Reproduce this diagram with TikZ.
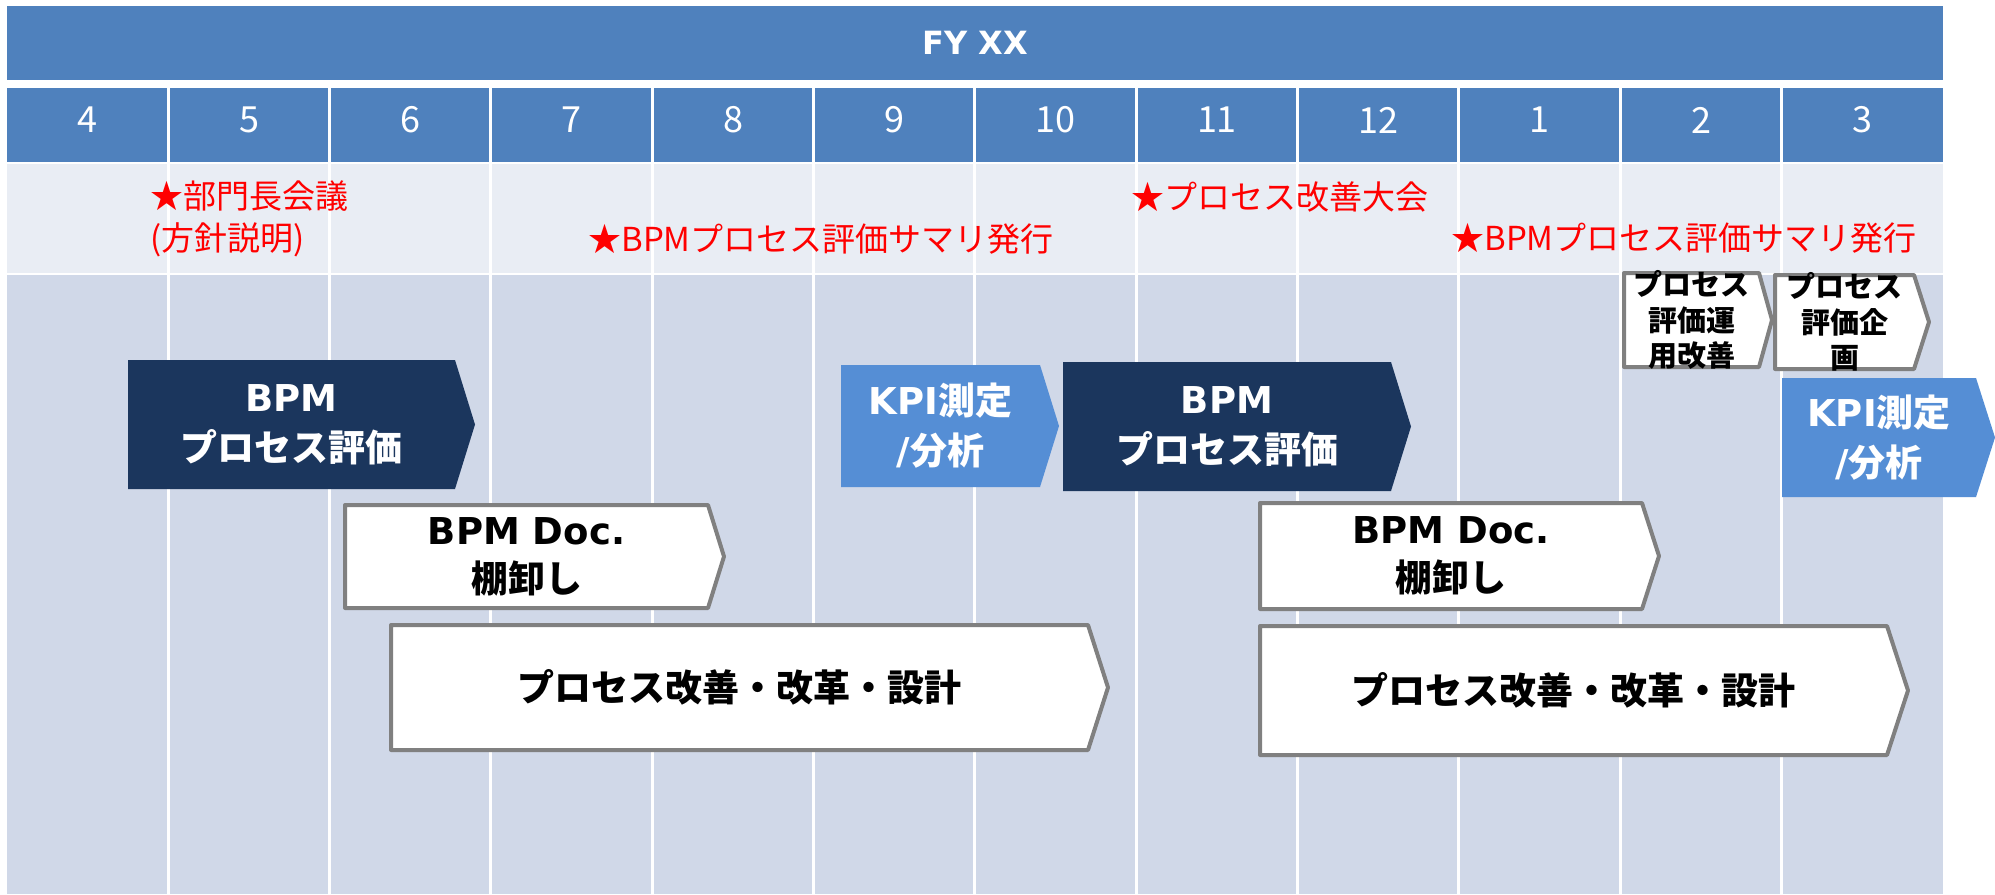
\documentclass[tikz,border=0pt]{standalone}
\usepackage{fontspec}
\setmainfont{Noto Sans CJK JP}
\newfontfamily\lat{DejaVu Sans}
\definecolor{hdr}{HTML}{4F81BD}
\definecolor{evt}{HTML}{E9EDF4}
\definecolor{bdy}{HTML}{D0D8E8}
\definecolor{navy}{HTML}{1B365D}
\definecolor{kpi}{HTML}{558ED5}
\definecolor{gry}{HTML}{808080}
\newcommand{\chev}[9]{%
  \path[#1] (#4,#5) -- (#6,#5) -- (#7,{(#5+#8)/2}) -- (#6,#8) -- (#4,#8) -- cycle;
  \node[#2] (#3) at ({(#4+#6)/2},{(#5+#8)/2}) {#9};}
\tikzset{
  navybox/.style={fill=navy},
  kpibox/.style={fill=kpi},
  outbox/.style={fill=white,draw=gry,line width=2pt,line join=round},
  wtext/.style={text=white,align=center,inner sep=0pt,font=\bfseries\fontsize{18.5}{25}\selectfont},
  btext/.style={text=black,align=center,inner sep=0pt,font=\bfseries\fontsize{18.5}{24}\selectfont},
  stext/.style={text=black,align=center,inner sep=0pt,font=\bfseries\fontsize{14.5}{17.7}\selectfont},
  evtext/.style={text=red,anchor=west,align=left,inner sep=0pt,font=\fontsize{16.5}{21}\selectfont},
  monthlbl/.style={text=white,inner sep=0pt,font=\fontsize{18}{20}\selectfont},
  grid/.style={white,line width=1.5pt}
}
\begin{document}
\begin{tikzpicture}[x=0.5pt,y=-0.5pt]
\useasboundingbox (0,0) rectangle (1995,894);
\fill[white] (0,0) rectangle (1995,894);
% header
\fill[hdr] (7,6) rectangle (1943,80);
\node[text=white,inner sep=0pt,font=\lat\bfseries\fontsize{16}{18}\selectfont] (fy) at (975,43) {FY XX};
% month row, event row, body
\fill[hdr] (7,88) rectangle (1943,162);
\fill[evt] (7,164) rectangle (1943,273);
\fill[bdy] (7,275) rectangle (1943,894);
\foreach \i in {1,...,11}
  \draw[grid] ({7+161.33*\i},80) -- ({7+161.33*\i},894);
\foreach \m [count=\i from 0] in {4,5,6,7,8,9,10,11,12,1,2,3}
  \node[monthlbl] (m\m) at ({7+161.33*(\i+0.5)},120) {\m};
% events
\node[evtext] (ev1) at (150,219) {★部門長会議\\(方針説明)};
\node[evtext] (ev2) at (588,239) {★BPMプロセス評価サマリ発行};
\node[evtext] (ev3) at (1131,197) {★プロセス改善大会};
\node[evtext] (ev4) at (1451,238) {★BPMプロセス評価サマリ発行};
% boxes
\chev{navybox}{wtext}{bpm1}{128}{360}{455}{475}{489}{{\lat BPM}\\プロセス評価}
\chev{kpibox}{wtext}{kpi1}{841}{365}{1040}{1059}{487}{{\lat KPI}測定\\{\lat /}分析}
\chev{navybox}{wtext}{bpm2}{1063}{362}{1391}{1411}{491}{{\lat BPM}\\プロセス評価}
\chev{kpibox}{wtext}{kpi2}{1782}{378}{1976}{1995}{497}{{\lat KPI}測定\\{\lat /}分析}
\chev{outbox}{btext}{doc1}{345}{505}{708}{724}{608}{{\lat BPM Doc.}\\棚卸し}
\chev{outbox}{btext}{doc2}{1260}{503}{1642}{1659}{609}{{\lat BPM Doc.}\\棚卸し}
\chev{outbox}{btext}{proc1}{391}{625}{1088}{1108}{750}{プロセス改善・改革・設計}
\chev{outbox}{btext}{proc2}{1260}{626}{1887}{1908}{755}{プロセス改善・改革・設計}
\chev{outbox}{stext}{sm1}{1624}{273}{1759}{1772}{367}{プロセス\\評価運\\用改善}
\chev{outbox}{stext}{sm2}{1775}{275}{1914}{1929}{369}{プロセス\\評価企\\画}
\end{tikzpicture}
\end{document}
